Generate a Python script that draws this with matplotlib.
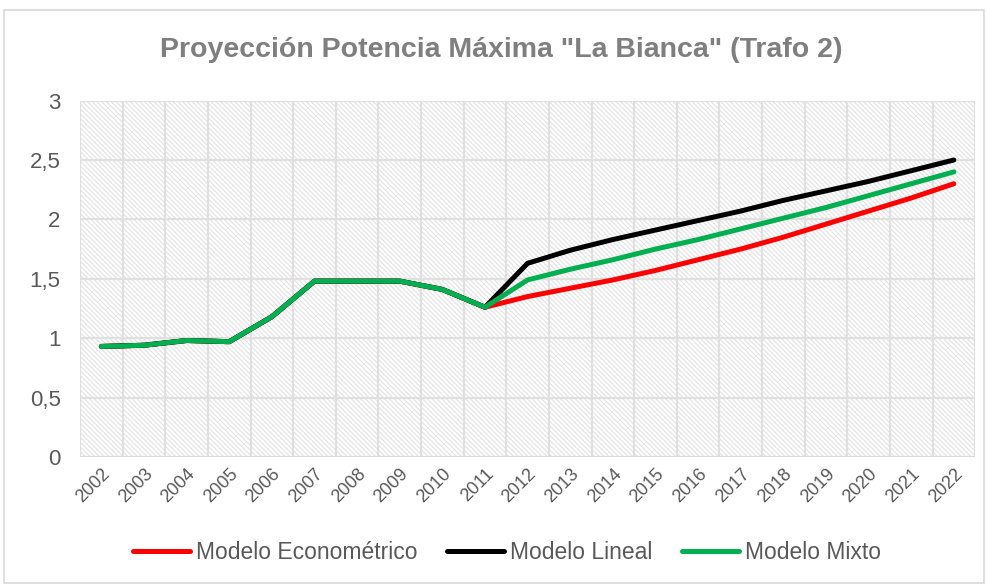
""" Proyeccion potencia maxima - La Bianca (Trafo 2) """

import matplotlib.pyplot as plt
import matplotlib.patches as mpatches
from matplotlib.ticker import FuncFormatter

# Data
years = [str(y) for y in range(2002, 2023)]
historico = [0.93, 0.94, 0.98, 0.97, 1.18, 1.48, 1.48, 1.48, 1.41, 1.26]
econometrico = historico + [1.35, 1.42, 1.49, 1.57, 1.66, 1.75, 1.85, 1.96, 2.07, 2.18, 2.30]
lineal = historico + [1.63, 1.74, 1.83, 1.91, 1.99, 2.07, 2.16, 2.24, 2.32, 2.41, 2.50]
mixto = historico + [1.49, 1.58, 1.66, 1.75, 1.83, 1.92, 2.01, 2.10, 2.20, 2.30, 2.40]

plt.rcParams['font.family'] = ['Liberation Sans', 'DejaVu Sans']
plt.rcParams['hatch.linewidth'] = 0.8
GRAY_TXT = '#595959'
GRID = '#e0e0e0'


def main():
    """ Main function """
    fig = plt.figure(figsize=(9.88, 5.85), dpi=100)
    ax = fig.add_axes([0.081, 0.219, 0.906, 0.609])

    # Border around the whole chart
    fig.patches.append(mpatches.Rectangle((0.004, 0.003), 0.992, 0.98, transform=fig.transFigure,
                                          fill=False, edgecolor='#d9d9d9', linewidth=1.2))

    x = list(range(len(years)))
    ax.set_xlim(-0.5, len(years) - 0.5)
    ax.set_ylim(0, 3)

    # Hatched background
    ax.add_patch(mpatches.Rectangle((-0.5, 0), len(years), 3, facecolor='white', edgecolor='#e2e2e2',
                                    hatch='\\' * 7, linewidth=0, zorder=0))

    # Grid lines
    for b in range(len(years) + 1):
        ax.axvline(b - 0.5, color=GRID, lw=1.6, zorder=1)
    for v in [0.5, 1, 1.5, 2, 2.5, 3]:
        ax.axhline(v, color=GRID, lw=1.6, zorder=1)
    ax.axhline(0, color='#d9d9d9', lw=1.6, zorder=1)

    ax.plot(x, econometrico, color='#ff0000', lw=3.6, label='Modelo Econométrico', zorder=3,
            solid_capstyle='round', solid_joinstyle='round')
    ax.plot(x, lineal, color='#000000', lw=3.6, label='Modelo Lineal', zorder=4,
            solid_capstyle='round', solid_joinstyle='round')
    ax.plot(x, mixto, color='#00b050', lw=3.6, label='Modelo Mixto', zorder=5,
            solid_capstyle='round', solid_joinstyle='round')

    for s in ax.spines.values():
        s.set_visible(False)

    ax.set_xticks(x)
    ax.set_xticklabels(years, rotation=45, ha='right', rotation_mode='anchor',
                       fontsize=13, color=GRAY_TXT)
    ax.set_yticks([0, 0.5, 1, 1.5, 2, 2.5, 3])
    ax.yaxis.set_major_formatter(FuncFormatter(lambda v, _: f'{v:g}'.replace('.', ',')))
    ax.tick_params(axis='y', labelsize=16, labelcolor=GRAY_TXT, length=0, pad=14)
    ax.tick_params(axis='x', length=0, pad=6)

    fig.text(0.507, 0.915, 'Proyección Potencia Máxima "La Bianca" (Trafo 2)', ha='center', va='center',
             fontsize=20.5, fontweight='bold', color='#7f7f7f')

    leg = fig.legend(loc='center', bbox_to_anchor=(0.513, 0.055), ncol=3, frameon=False,
                     fontsize=16.5, handlelength=2.5, handletextpad=0.25, columnspacing=1.3)
    for t in leg.get_texts():
        t.set_color(GRAY_TXT)

    fig.savefig('out.png', dpi=100)


if __name__ == "__main__":
    main()
